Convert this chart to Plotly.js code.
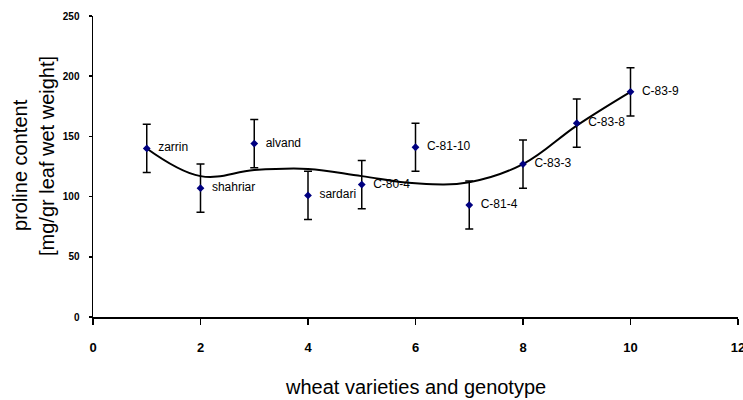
<!DOCTYPE html>
<html>
<head>
<meta charset="utf-8">
<script src="https://cdn.plot.ly/plotly-3.0.1.min.js"></script>
<style>html,body{margin:0;padding:0;background:#fff;}#chart{width:743px;height:400px;}</style>
</head>
<body>
<div id="chart"></div>
<script>
// Data
const varieties = ["zarrin", "shahriar", "alvand", "sardari", "C-80-4", "C-81-10", "C-81-4", "C-83-3", "C-83-8", "C-83-9"];
const xIndex = [1, 2, 3, 4, 5, 6, 7, 8, 9, 10];
const proline = [140, 107, 144, 101, 110, 141, 93, 127, 161, 187];
const errorBars = [20, 20, 20, 20, 20, 20, 20, 20, 20, 20];
// trend curve values at each x
const trendValues = [140, 117, 122, 123, 117, 111, 112, 127, 159, 187];
const xTicks = [0, 2, 4, 6, 8, 10, 12];
const yTicks = [0, 50, 100, 150, 200, 250];

const fontFam = "Liberation Sans, Arial, sans-serif";

const trend = {
  x: xIndex, y: trendValues, type: "scatter", mode: "lines",
  line: {color: "#000", width: 2, shape: "spline", smoothing: 1.1},
  hoverinfo: "skip", showlegend: false
};
const points = {
  x: xIndex, y: proline, type: "scatter", mode: "markers+text",
  text: varieties.map(v => "  " + v),
  textposition: "middle right",
  textfont: {family: fontFam, size: 12, color: "#000"},
  marker: {symbol: "diamond", size: 6, color: "#000080"},
  error_y: {type: "data", array: errorBars, visible: true, color: "#000", thickness: 1.5, width: 4},
  showlegend: false, cliponaxis: false
};

const layout = {
  width: 743, height: 400,
  margin: {l: 93, r: 5, t: 16, b: 83},
  paper_bgcolor: "#fff", plot_bgcolor: "#fff",
  font: {family: fontFam, color: "#000"},
  xaxis: {
    range: [0, 12], tickvals: xTicks, ticktext: xTicks.map(String),
    showgrid: false, zeroline: false, showline: true, linecolor: "#000", linewidth: 1.5,
    ticks: "outside", ticklen: 6, tickwidth: 1.5, tickcolor: "#000",
    tickfont: {family: fontFam, size: 13, color: "#000", weight: "bold"},
    ticklabelstandoff: 12,
    ticklabeloverflow: "allow",
    automargin: false
  },
  yaxis: {
    range: [0, 250], tickvals: yTicks, ticktext: yTicks.map(String),
    showgrid: false, zeroline: false, showline: true, linecolor: "#000", linewidth: 1.5,
    ticks: "outside", ticklen: 3, tickwidth: 1.5, tickcolor: "#000",
    tickfont: {family: fontFam, size: 10, color: "#000", weight: "bold"},
    ticklabelstandoff: 7,
    automargin: false
  },
  annotations: [
    {text: "wheat varieties and genotype", xref: "paper", yref: "paper", x: 0.5, y: -(387 - 317) / 301,
     xanchor: "center", yanchor: "middle", showarrow: false, font: {family: fontFam, size: 20, color: "#000"}},
    {text: "proline content", xref: "paper", yref: "paper", x: -(93 - 20) / 645, y: (317 - 165) / 301,
     xanchor: "center", yanchor: "middle", textangle: -90, showarrow: false, font: {family: fontFam, size: 20, color: "#000"}},
    {text: "[mg/gr leaf wet weight]", xref: "paper", yref: "paper", x: -(93 - 47) / 645, y: (317 - 156) / 301,
     xanchor: "center", yanchor: "middle", textangle: -90, showarrow: false, font: {family: fontFam, size: 20, color: "#000"}}
  ]
};

Plotly.newPlot("chart", [trend, points], layout, {displayModeBar: false, staticPlot: true});
</script>
</body>
</html>
